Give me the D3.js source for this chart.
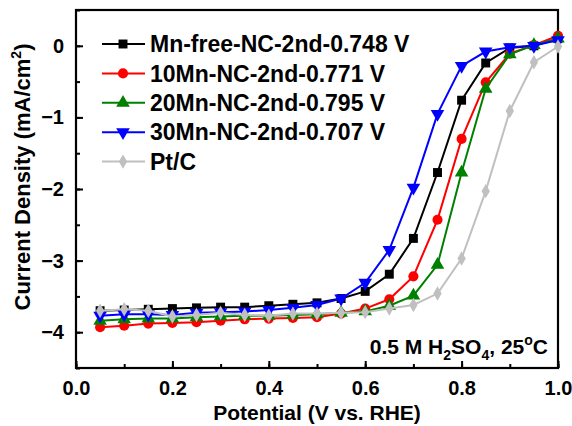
<!DOCTYPE html>
<html>
<head>
<meta charset="utf-8">
<script src="https://cdn.jsdelivr.net/npm/d3@7"></script>
<style>
  body { margin: 0; background: #fff; }
  text { font-family: "Liberation Sans", Arial, sans-serif; font-weight: bold; }
</style>
</head>
<body>
<svg id="chart" width="572" height="426"></svg>
<script>
// potential (V vs. RHE)
let potential = [0.05, 0.10, 0.15, 0.20, 0.25, 0.30, 0.35, 0.40, 0.45, 0.50,
                 0.55, 0.60, 0.65, 0.70, 0.75, 0.80, 0.85, 0.90, 0.95, 1.00];

let mnFree = [-3.70, -3.69, -3.68, -3.67, -3.66, -3.65, -3.65, -3.63, -3.61, -3.59,
              -3.53, -3.43, -3.19, -2.69, -1.77, -0.76, -0.24, -0.03, 0.00, 0.10];
let mn10 = [-3.93, -3.91, -3.88, -3.87, -3.86, -3.84, -3.82, -3.81, -3.80, -3.79,
            -3.74, -3.67, -3.54, -3.22, -2.43, -1.30, -0.51, -0.11, 0.01, 0.14];
let mn20 = [-3.84, -3.82, -3.81, -3.81, -3.79, -3.78, -3.77, -3.77, -3.76, -3.75,
            -3.73, -3.71, -3.63, -3.49, -3.06, -1.77, -0.60, -0.12, 0.01, 0.10];
let mn30 = [-3.77, -3.75, -3.75, -3.76, -3.73, -3.72, -3.71, -3.69, -3.66, -3.62,
            -3.53, -3.31, -2.85, -1.98, -0.95, -0.28, -0.08, -0.02, 0.00, 0.08];
let ptC = [-3.70, -3.68, -3.70, -3.78, -3.76, -3.73, -3.76, -3.77, -3.74, -3.74,
           -3.73, -3.72, -3.67, -3.62, -3.46, -2.97, -2.03, -0.91, -0.23, -0.01];

let seriesNames = ["Mn-free-NC-2nd-0.748 V", "10Mn-NC-2nd-0.771 V", "20Mn-NC-2nd-0.795 V",
                   "30Mn-NC-2nd-0.707 V", "Pt/C"];
let xTicks = [0.0, 0.2, 0.4, 0.6, 0.8, 1.0];
let yTicks = [0, -1, -2, -3, -4];

let series = [
    {name: seriesNames[0], values: mnFree, color: "#000000", symbol: d3.symbolSquare, size: 80, rot: 0},
    {name: seriesNames[1], values: mn10, color: "#ff0000", symbol: d3.symbolCircle, size: 80, rot: 0},
    {name: seriesNames[2], values: mn20, color: "#008000", symbol: d3.symbolTriangle, size: 80, rot: 0},
    {name: seriesNames[3], values: mn30, color: "#0000ff", symbol: d3.symbolTriangle, size: 80, rot: 180},
    {name: seriesNames[4], values: ptC, color: "#c0c0c0", symbol: d3.symbolDiamond, size: 60, rot: 0}
];

let svg = d3.select("#chart");
let pLeft = 76, pTop = 10, pRight = 558, pBottom = 368;

let x = d3.scaleLinear().domain([0, 1]).range([pLeft, pRight]);
let y = d3.scaleLinear().domain([-4.5, 0.5]).range([pBottom, pTop]);

// minor + major ticks, pointing inward
svg.append("g")
    .attr("transform", "translate(0," + pBottom + ")")
    .call(d3.axisBottom(x).tickValues(d3.range(0, 1.01, 0.1)).tickSize(-4).tickFormat(""))
    .call(g => g.select(".domain").remove());
svg.append("g")
    .attr("transform", "translate(0," + pBottom + ")")
    .call(d3.axisBottom(x).tickValues(xTicks).tickSize(-7).tickPadding(13).tickFormat(d3.format(".1f")))
    .call(g => g.select(".domain").remove())
    .call(g => g.selectAll("text").attr("font-size", "20px").attr("fill", "#000"));

svg.append("g")
    .attr("transform", "translate(" + pLeft + ",0)")
    .call(d3.axisLeft(y).tickValues(d3.range(-4.5, 0.51, 0.5)).tickSize(-4).tickFormat(""))
    .call(g => g.select(".domain").remove());
svg.append("g")
    .attr("transform", "translate(" + pLeft + ",0)")
    .call(d3.axisLeft(y).tickValues(yTicks).tickSize(-7).tickPadding(12).tickFormat(d3.format("d")))
    .call(g => g.select(".domain").remove())
    .call(g => g.selectAll("text").attr("font-size", "20px").attr("fill", "#000"));

svg.selectAll(".tick line").attr("stroke", "#000").attr("stroke-width", 2);

// frame
svg.append("rect")
    .attr("x", pLeft).attr("y", pTop)
    .attr("width", pRight - pLeft).attr("height", pBottom - pTop)
    .attr("fill", "none").attr("stroke", "#000").attr("stroke-width", 2.2);

let line = d3.line()
    .x(function(d, i) { return x(potential[i]); })
    .y(function(d) { return y(d); });

series.forEach(function(s) {
    svg.append("path")
        .datum(s.values)
        .attr("fill", "none")
        .attr("stroke", s.color)
        .attr("stroke-width", 2)
        .attr("d", line);
    svg.selectAll(null)
        .data(s.values)
        .enter().append("path")
        .attr("d", d3.symbol().type(s.symbol).size(s.size))
        .attr("fill", s.color)
        .attr("transform", function(d, i) {
            return "translate(" + x(potential[i]) + "," + y(d) + ") rotate(" + s.rot + ")";
        });
});

// legend
let legend = svg.append("g");
series.forEach(function(s, i) {
    let ly = 44 + i * 29.4;
    legend.append("line")
        .attr("x1", 102).attr("x2", 145).attr("y1", ly).attr("y2", ly)
        .attr("stroke", s.color).attr("stroke-width", 2);
    legend.append("path")
        .attr("d", d3.symbol().type(s.symbol).size(s.size))
        .attr("fill", s.color)
        .attr("transform", "translate(123," + ly + ") rotate(" + s.rot + ")");
    legend.append("text")
        .attr("x", 150).attr("y", ly)
        .attr("dy", "0.36em")
        .attr("font-size", "23px")
        .attr("fill", "#000")
        .text(s.name);
});

// condition note
let note = svg.append("text")
    .attr("x", 548).attr("y", 354)
    .attr("text-anchor", "end")
    .attr("font-size", "21px")
    .attr("fill", "#000");
note.append("tspan").text("0.5 M H");
note.append("tspan").attr("font-size", "14px").attr("dy", 6).text("2");
note.append("tspan").attr("dy", -6).text("SO");
note.append("tspan").attr("font-size", "14px").attr("dy", 6).text("4");
note.append("tspan").attr("dy", -6).text(", 25");
note.append("tspan").attr("font-size", "14px").attr("dy", -9).text("o");
note.append("tspan").attr("dy", 9).text("C");

// axis titles
svg.append("text")
    .attr("x", 317).attr("y", 420)
    .attr("text-anchor", "middle")
    .attr("font-size", "21px")
    .text("Potential (V vs. RHE)");

let yTitle = svg.append("text")
    .attr("transform", "translate(30,177) rotate(-90)")
    .attr("text-anchor", "middle")
    .attr("font-size", "22px");
yTitle.append("tspan").text("Current Density (mA/cm");
yTitle.append("tspan").attr("font-size", "14px").attr("dy", -9).text("2");
yTitle.append("tspan").attr("dy", 9).text(")");
</script>
</body>
</html>
